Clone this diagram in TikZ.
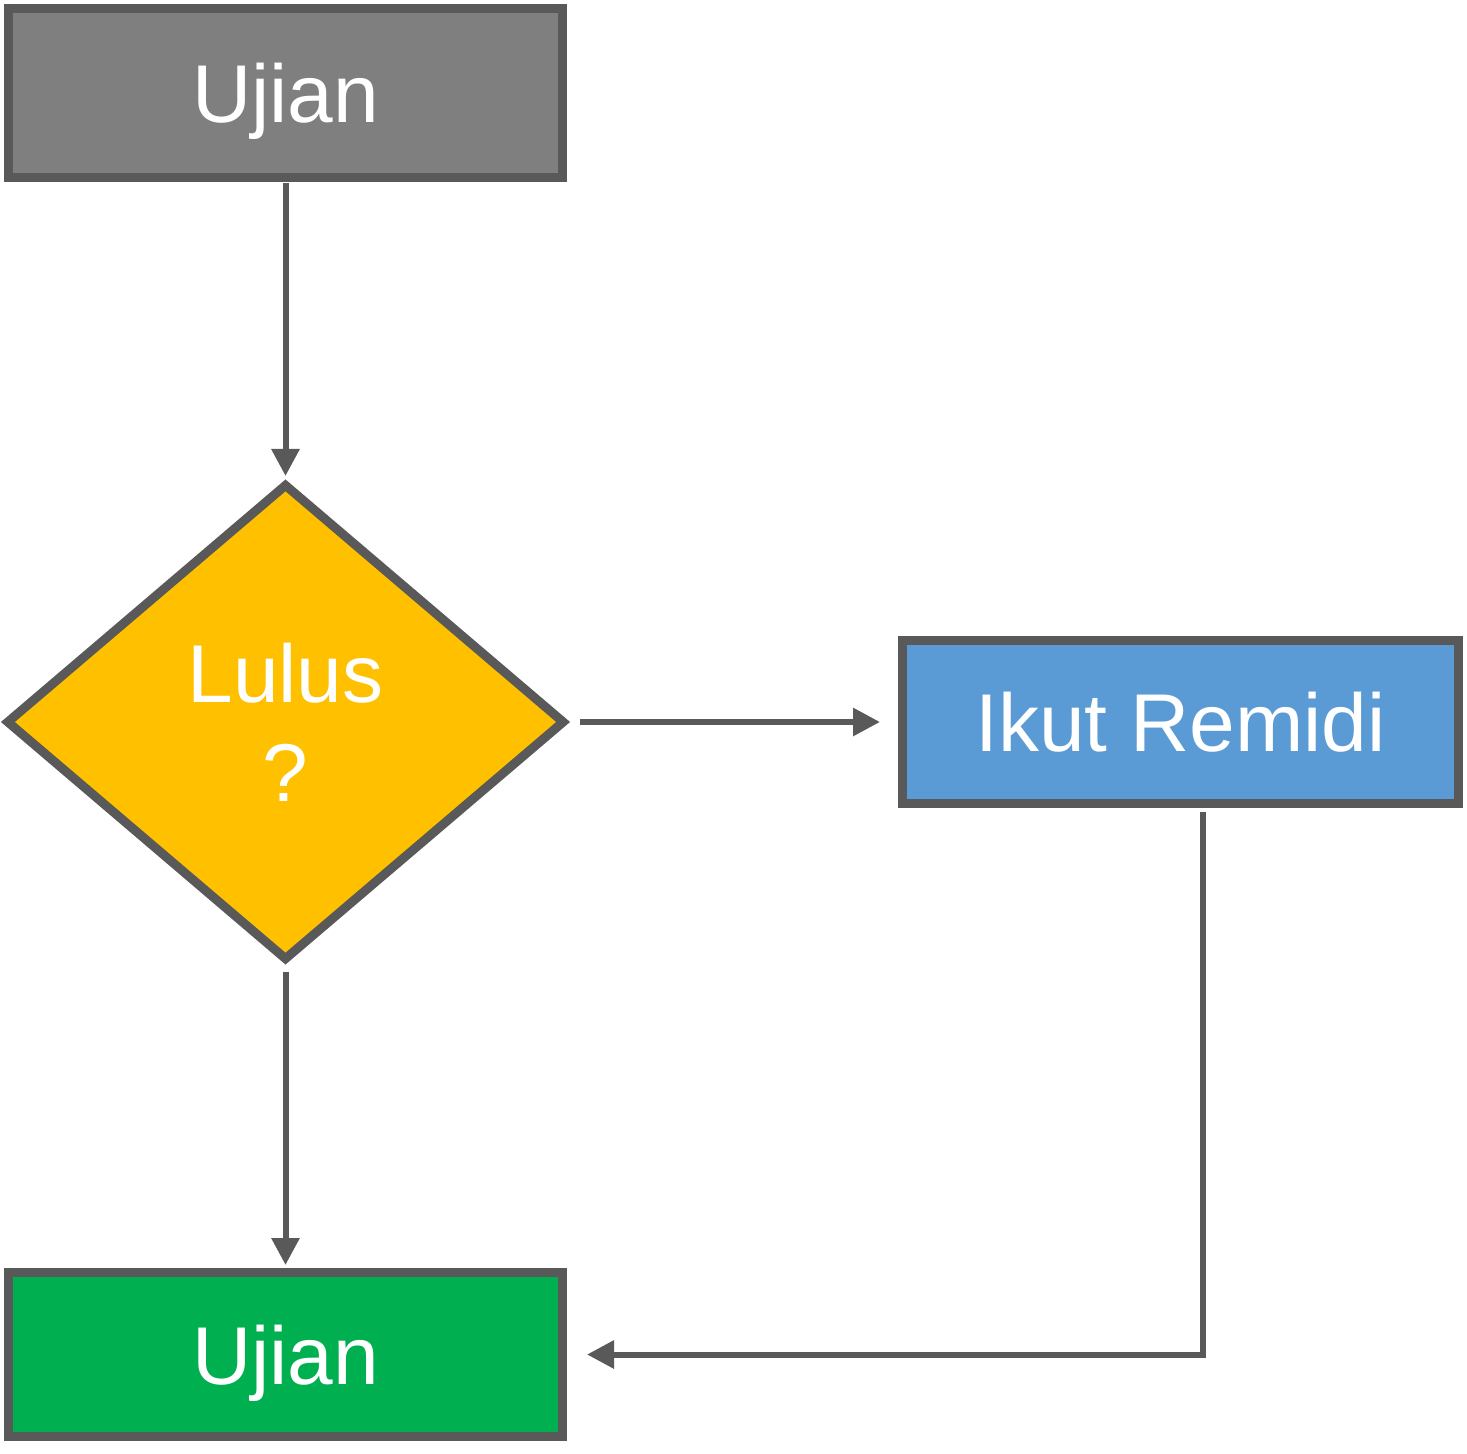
\documentclass[tikz,border=0pt]{standalone}
\usepackage{fontspec}
\setmainfont{Liberation Sans}
\usetikzlibrary{shapes.geometric,arrows.meta}
\definecolor{edge}{HTML}{595959}
\definecolor{grayfill}{HTML}{7F7F7F}
\definecolor{yellowfill}{HTML}{FFC000}
\definecolor{bluefill}{HTML}{5B9BD5}
\definecolor{greenfill}{HTML}{00B050}
\begin{document}
\begin{tikzpicture}[x=0.5pt,y=-0.5pt,
  box/.style={draw=edge,line width=4.5pt,rectangle,inner sep=0pt,text depth=0pt,text=white,font=\fontsize{41}{49}\selectfont},
  decision/.style={draw=edge,line width=4.5pt,diamond,inner sep=0pt,text=white,align=center,font=\fontsize{41}{49.5}\selectfont},
  conn/.style={draw=edge,line width=3pt,-{Triangle[length=13.5pt,width=13.5pt]}}]
\useasboundingbox (0,0) rectangle (1467,1454);
\node[box,fill=grayfill,minimum width=277pt,minimum height=84.5pt] (ujian1) at (285.5,93) {Ujian};
\node[decision,fill=yellowfill,minimum width=279.5pt,minimum height=238.5pt] (lulus) at (285.5,722) {Lulus\\?};
\node[box,fill=bluefill,minimum width=278pt,minimum height=81.5pt] (remidi) at (1180.5,722) {Ikut Remidi};
\node[box,fill=greenfill,minimum width=277pt,minimum height=82pt] (ujian2) at (285.5,1354.5) {Ujian};
\coordinate (corner) at (1203,1354.5);
\draw[conn,shorten <=0.5pt,shorten >=1.5pt] (ujian1.south) -- (lulus.north);
\draw[conn,shorten <=5pt,shorten >=9pt] (lulus.east) -- (remidi.west);
\draw[conn,shorten <=3.5pt,shorten >=1.5pt] (lulus.south) -- (ujian2.north);
\draw[conn,shorten >=10pt] ([yshift=-2pt]remidi.south -| corner) -- (corner) -- (ujian2.east);
\end{tikzpicture}
\end{document}
